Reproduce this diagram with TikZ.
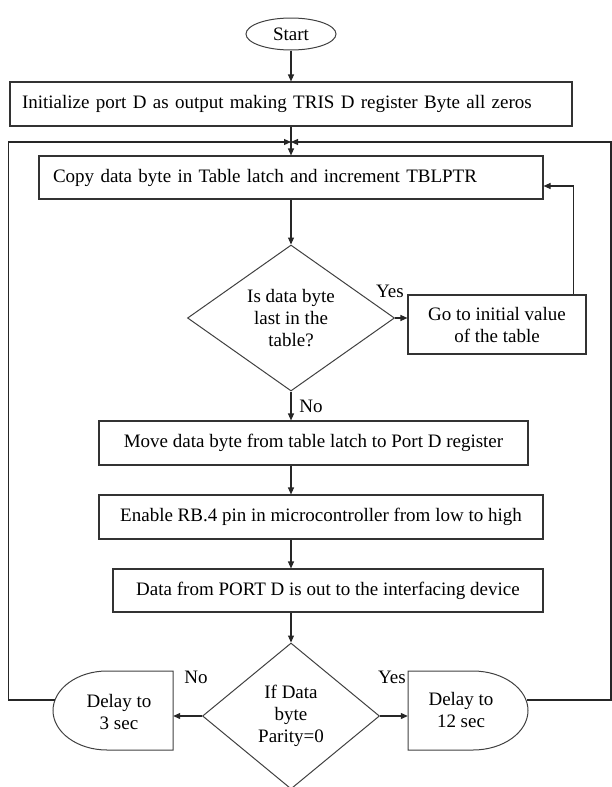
\documentclass[tikz,border=0pt]{standalone}
\usepackage{fontspec}
\setmainfont{Liberation Serif}
\usetikzlibrary{arrows.meta,shapes.geometric}
\begin{document}
\begin{tikzpicture}[x=1pt,y=-1pt,
  font=\fontsize{19}{22}\selectfont,
  line/.style={draw=black!85, line width=1.1pt},
  arr/.style={line, -{Triangle[length=7pt,width=6pt]}},
  box/.style={draw=black!80, line width=1.1pt, rectangle, inner sep=0pt, align=center},
  dia/.style={draw=black!75, line width=1pt, diamond, inner sep=0pt, align=center},
  shapeline/.style={draw=black!75, line width=1pt},
  lbl/.style={inner sep=0pt}]
\useasboundingbox (0,0) rectangle (612,787);

\coordinate (axis) at (291,0);

\node[ellipse, draw=black!75, line width=1pt, inner sep=0pt, minimum width=90, minimum height=32] (start) at (291,34) {Start};
\node[box, minimum width=562, minimum height=44, text width=538, align=left] (init) at (291,104)
  {Initialize port D as output making TRIS D register Byte all zeros};
\coordinate (join) at (291,142);
\node[box, minimum width=504, minimum height=43, text width=476, align=left] (copy) at (291,177.5)
  {Copy data byte in Table latch and increment TBLPTR};
\node[dia, aspect=1.42, minimum width=207, minimum height=146] (d1) at (291,318)
  {Is data byte\\last in the\\table?};
\node[box, minimum width=178, minimum height=59] (go) at (497,324.5)
  {Go to initial value\\of the table};
\node[box, minimum width=429, minimum height=44] (move) at (313.5,443)
  {Move data byte from table latch to Port D register};
\node[box, minimum width=444, minimum height=44] (enable) at (321,517)
  {Enable RB.4 pin in microcontroller from low to high};
\node[box, minimum width=430, minimum height=43] (data) at (328,590.5)
  {Data from PORT D is out to the interfacing device};
\node[dia, aspect=1.21, minimum width=177, minimum height=146] (d2) at (291,716)
  {If Data\\byte\\Parity=0};

% delay shapes
\node[inner sep=0pt, minimum width=120, minimum height=79] (delay3) at (113,710.5) {};
\node[inner sep=0pt, minimum width=120, minimum height=79] (delay12) at (468,710.5) {};
\draw[shapeline] (173,671) -- (107,671) .. controls (77.2,671) and (53,688.9) .. (53,710.5)
  .. controls (53,732.1) and (77.2,750) .. (107,750) -- (173,750) -- cycle;
\draw[shapeline] (408,671) -- (473,671) .. controls (503.4,671) and (528,688.9) .. (528,710.5)
  .. controls (528,732.1) and (503.4,750) .. (473,750) -- (408,750) -- cycle;
\node[lbl, align=center] (t3) at (119,712) {Delay to\\3 sec};
\node[lbl, align=center] (t12) at (461,710) {Delay to\\12 sec};
\coordinate (d3w) at (55,700);
\coordinate (d12e) at (527,700);

% connectors
\draw[arr] (start) -- (init);
\draw[arr] (init.south) -- (copy.north);
\draw[arr] (d3w) -- (8.5,700) |- (join);
\draw[arr] (d12e) -- (611,700) |- (join);
\draw[arr] (copy.south) -- (d1.north);
\draw[arr] (d1.east) -- (d1.east -| go.west);
\draw[arr] ([xshift=-13pt]go.north east) |- ([yshift=-8.5pt]copy.east);
\draw[arr] (d1.south) -- (d1.south |- move.north);
\draw[arr] (move.south -| axis) -- (enable.north -| axis);
\draw[arr] (enable.south -| axis) -- (data.north -| axis);
\draw[arr] (data.south -| axis) -- (d2.north);
\draw[arr] (d2.west) -- (d2.west -| delay3.east);
\draw[arr] (d2.east) -- (d2.east -| delay12.west);

% labels
\node[lbl] (yes1) at (390,291) {Yes};
\node[lbl] (no1) at (311,406) {No};
\node[lbl] (no2) at (196,677) {No};
\node[lbl] (yes2) at (392,677) {Yes};
\end{tikzpicture}
\end{document}
